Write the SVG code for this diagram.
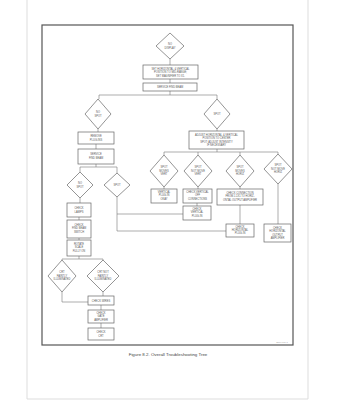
<svg xmlns="http://www.w3.org/2000/svg" width="339" height="400" viewBox="0 0 339 400">
<style>
.n{fill:#fff;stroke:#666;stroke-width:0.7}
.c{fill:none;stroke:#777;stroke-width:0.6}
text{font-family:"Liberation Sans",Arial,sans-serif;font-size:2.6px;fill:#555;text-anchor:middle}
.cap{font-size:4.4px;fill:#444}
.id{font-size:2.4px;fill:#999}
</style>
<rect width="339" height="400" fill="#fff"/>
<path d="M27 0V399H308V0" fill="none" stroke="#ddd" stroke-width="1"/>
<rect x="42" y="25" width="251" height="320" fill="none" stroke="#555" stroke-width="1.2"/>
<g id="connectors" class="c">
<path d="M170 59V65M170 79V83M170 91V95M99 95H217M99 95V99M217 95V99"/>
<path d="M98 129V132M96 144V149M96 164V167M80 167H117M80 167V172M117 167V173"/>
<path d="M80 198V203M79 217V220M79 238V240M79 256V259M62 259H103M62 259V260M103 259V260"/>
<path d="M62 292V302H88M103 292V296M101 305V310M101 323V328"/>
<path d="M117 197V231M117 214H183M117 231H226"/>
<path d="M217 129V131M217 149V152M164 152H278M164 152V155M198 152V155M240 152V155M278 152V154"/>
<path d="M164 187V189M198 187V189M240 187V189M197 203V206M240 205V224M278 184V224"/>
</g>
<g id="nodisplay"><polygon class="n" points="170,33 184,46 170,59 156,46"/><text x="170" y="45">NO</text><text x="170" y="48.5">DISPLAY</text></g>
<g id="setpos"><rect class="n" x="143" y="65" width="55" height="14"/><text x="170.5" y="69.5">SET HORIZONTAL &amp; VERTICAL</text><text x="170.5" y="73">POSITION TO MID-RANGE;</text><text x="170.5" y="76.5">SET MAGNIFIER TO X1.</text></g>
<g id="service1"><rect class="n" x="143" y="83" width="54" height="8"/><text x="170" y="88">SERVICE FIND BEAM</text></g>
<g id="nospot1"><polygon class="n" points="98,99 111,114 98,129 85,114"/><text x="98" y="113">NO</text><text x="98" y="116.5">SPOT</text></g>
<g id="spot1"><polygon class="n" points="217,99 230,114 217,129 204,114"/><text x="217" y="115">SPOT</text></g>
<g id="remove"><rect class="n" x="78" y="132" width="36" height="12"/><text x="96" y="137">REMOVE</text><text x="96" y="140.5">PLUG-INS</text></g>
<g id="service2"><rect class="n" x="78" y="149" width="36" height="15"/><text x="96" y="155">SERVICE</text><text x="96" y="158.5">FIND BEAM</text></g>
<g id="nospot2"><polygon class="n" points="80,172 93,185 80,198 67,185"/><text x="80" y="184">NO</text><text x="80" y="187.5">SPOT</text></g>
<g id="spot2"><polygon class="n" points="117,173 130,185 117,197 104,185"/><text x="117" y="186">SPOT</text></g>
<g id="checklamps"><rect class="n" x="67" y="203" width="24" height="14"/><text x="79" y="209">CHECK</text><text x="79" y="212.5">LAMPS</text></g>
<g id="checkfind"><rect class="n" x="67" y="220" width="24" height="18"/><text x="79" y="225.5">CHECK</text><text x="79" y="229">FIND BEAM</text><text x="79" y="232.5">SWITCH</text></g>
<g id="rotate"><rect class="n" x="67" y="240" width="24" height="16"/><text x="79" y="244.8">ROTATE</text><text x="79" y="248.3">SCALE</text><text x="79" y="251.8">FULLY ON</text></g>
<g id="crtfaint"><polygon class="n" points="62,260 76,276 62,292 48,276"/><text x="62" y="273">CRT</text><text x="62" y="276.5">FAINTLY</text><text x="62" y="280">ILLUMINATED</text></g>
<g id="crtnotfaint"><polygon class="n" points="103,260 119,276 103,292 87,276"/><text x="103" y="273">CRT NOT</text><text x="103" y="276.5">FAINTLY</text><text x="103" y="280">ILLUMINATED</text></g>
<g id="checkwires"><rect class="n" x="88" y="296" width="26" height="9"/><text x="101" y="301.5">CHECK WIRES</text></g>
<g id="checkgate"><rect class="n" x="88" y="310" width="26" height="13"/><text x="101" y="314">CHECK</text><text x="101" y="317.3">GATE</text><text x="101" y="320.6">AMPLIFIER</text></g>
<g id="checkcrt"><rect class="n" x="88" y="328" width="26" height="12"/><text x="101" y="333">CHECK</text><text x="101" y="336.5">CRT</text></g>
<g id="adjust"><rect class="n" x="189" y="131" width="55" height="18"/><text x="216.5" y="135.5">ADJUST HORIZONTAL &amp; VERTICAL</text><text x="216.5" y="139">POSITION TO CENTER</text><text x="216.5" y="142.5">SPOT; ADJUST INTENSITY</text><text x="216.5" y="146">IF NECESSARY</text></g>
<g id="smv"><polygon class="n" points="164,155 178,171 164,187 150,171"/><text x="164" y="168">SPOT</text><text x="164" y="171.5">MOVES</text><text x="164" y="175">VERT</text></g>
<g id="snmv"><polygon class="n" points="198,155 212,171 198,187 184,171"/><text x="198" y="168">SPOT</text><text x="198" y="171.5">NOT MOVE</text><text x="198" y="175">VERT</text></g>
<g id="smh"><polygon class="n" points="240,155 254,171 240,187 226,171"/><text x="240" y="168">SPOT</text><text x="240" y="171.5">MOVES</text><text x="240" y="175">HORIZ</text></g>
<g id="snmh"><polygon class="n" points="278,154 292,169 278,184 264,169"/><text x="278" y="166">SPOT</text><text x="278" y="169.5">NOT MOVE</text><text x="278" y="173">HORIZ</text></g>
<g id="vpok"><rect class="n" x="151" y="189" width="26" height="14"/><text x="164" y="192.8">VERTICAL</text><text x="164" y="196.3">PLUG-IN</text><text x="164" y="199.8">OKAY</text></g>
<g id="cvoff"><rect class="n" x="183" y="189" width="29" height="14"/><text x="197.5" y="192.8">CHECK VERTICAL</text><text x="197.5" y="196.3">OFF</text><text x="197.5" y="199.8">CONNECTIONS</text></g>
<g id="cvplug"><rect class="n" x="183" y="206" width="28" height="14"/><text x="197" y="209.8">CHECK</text><text x="197" y="213.3">VERTICAL</text><text x="197" y="216.8">PLUG-IN</text></g>
<g id="cconn"><rect class="n" x="217" y="189" width="46" height="16"/><text x="240" y="193.5">CHECK CONNECTION</text><text x="240" y="197.3">FROM J-1X1 TO HORIZ-</text><text x="240" y="201.1">ONTAL OUTPUT AMPLIFIER</text></g>
<g id="chplug"><rect class="n" x="226" y="224" width="28" height="13"/><text x="240" y="227.5">CHECK</text><text x="240" y="230.8">HORIZONTAL</text><text x="240" y="234.1">PLUG-IN</text></g>
<g id="chout"><rect class="n" x="264" y="224" width="27" height="18"/><text x="277.5" y="228.5">CHECK</text><text x="277.5" y="232">HORIZONTAL</text><text x="277.5" y="235.5">OUTPUT</text><text x="277.5" y="239">AMPLIFIER</text></g>
<text class="id" x="282" y="343">3669-8/1-1</text>
<text class="cap" x="168" y="356">Figure 8.2.  Overall Troubleshooting Tree</text>
</svg>
